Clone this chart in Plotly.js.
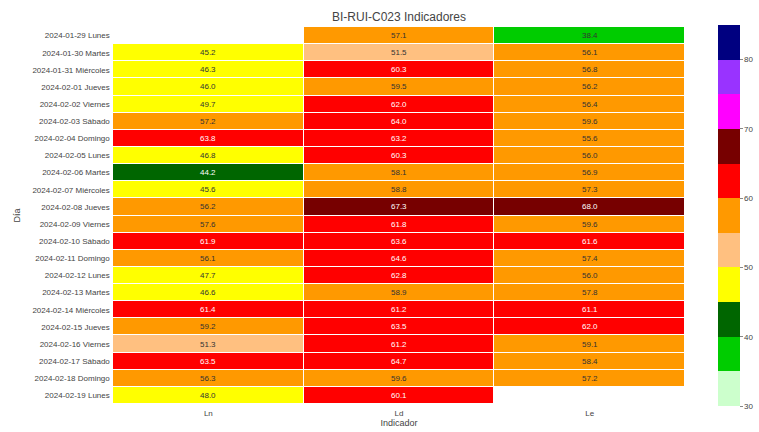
<!DOCTYPE html>
<html>
<head>
<meta charset="utf-8">
<script src="https://cdn.plot.ly/plotly-3.0.1.min.js"></script>
<style>html,body{margin:0;padding:0;background:#fff;}#chart{width:759px;height:432px;}</style>
</head>
<body>
<div id="chart"></div>
<script>
const days = ["2024-01-29 Lunes","2024-01-30 Martes","2024-01-31 Miércoles","2024-02-01 Jueves","2024-02-02 Viernes","2024-02-03 Sábado","2024-02-04 Domingo","2024-02-05 Lunes","2024-02-06 Martes","2024-02-07 Miércoles","2024-02-08 Jueves","2024-02-09 Viernes","2024-02-10 Sábado","2024-02-11 Domingo","2024-02-12 Lunes","2024-02-13 Martes","2024-02-14 Miércoles","2024-02-15 Jueves","2024-02-16 Viernes","2024-02-17 Sábado","2024-02-18 Domingo","2024-02-19 Lunes"];
const indicators = ["Ln","Ld","Le"];
const Ln = [null,45.2,46.3,46.0,49.7,57.2,63.8,46.8,44.2,45.6,56.2,57.6,61.9,56.1,47.7,46.6,61.4,59.2,51.3,63.5,56.3,48.0];
const Ld = [57.1,51.5,60.3,59.5,62.0,64.0,63.2,60.3,58.1,58.8,67.3,61.8,63.6,64.6,62.8,58.9,61.2,63.5,61.2,64.7,59.6,60.1];
const Le = [38.4,56.1,56.8,56.2,56.4,59.6,55.6,56.0,56.9,57.3,68.0,59.6,61.6,57.4,56.0,57.8,61.1,62.0,59.1,58.4,57.2,null];
const binColors = ["#ccffcc","#00cc00","#006600","#ffff00","#ffc080","#ff9900","#ff0000","#770000","#ff00ff","#9933ff","#000080"];
const zmin = 30, zmax = 85;

const z = days.map((d,i)=>[Ln[i],Ld[i],Le[i]]);
const cs = [];
binColors.forEach((c,k)=>{ cs.push([k/binColors.length,c]); cs.push([(k+1)/binColors.length,c]); });

const darkBins = new Set([2,6,7,8,9,10]);
const annotations = [];
days.forEach((d,i)=>{
  indicators.forEach((ind,j)=>{
    const v = z[i][j];
    if (v===null) return;
    const bin = Math.min(binColors.length-1, Math.floor((v-zmin)/5));
    annotations.push({x:ind, y:d, text:v.toFixed(1), showarrow:false,
      font:{size:8, color: darkBins.has(bin) ? "#ffffff" : "#333333", family:"Liberation Sans, Arial, sans-serif"}});
  });
});

const trace = {
  type:"heatmap", x:indicators, y:days, z:z,
  colorscale:cs, zmin:zmin, zmax:zmax, xgap:1, ygap:1,
  hoverongaps:false,
  colorbar:{thickness:22, len:1.01, x:1.0577, xanchor:"left", xpad:0, ypad:0, y:0.5, yanchor:"middle",
    tickvals:[30,40,50,60,70,80], ticks:"outside", ticklen:3, tickcolor:"#888",
    outlinewidth:0, tickfont:{size:8,color:"#444"}}
};
const layout = {
  width:759, height:432,
  margin:{l:113, r:74, t:27, b:28, autoexpand:false},
  paper_bgcolor:"#ffffff", plot_bgcolor:"#ffffff",
  font:{family:"Liberation Sans, Arial, sans-serif", color:"#444"},
  title:{text:"BI-RUI-C023 Indicadores", font:{size:12,color:"#444"}, x:0.5, xref:"paper", y:0.96, yanchor:"middle"},
  xaxis:{title:{text:"Indicador", font:{size:9,color:"#444"}, standoff:3}, tickfont:{size:8,color:"#444"}, showgrid:false, zeroline:false, ticks:"outside", ticklen:1, tickcolor:"rgba(0,0,0,0)", automargin:false},
  yaxis:{title:{text:"Día", font:{size:9,color:"#444"}, standoff:10}, tickfont:{size:8,color:"#444"}, autorange:"reversed", showgrid:false, zeroline:false, ticks:"", ticksuffix:" ", automargin:false},
  annotations:annotations
};
Plotly.newPlot("chart",[trace],layout,{displayModeBar:false, staticPlot:true});
</script>
</body>
</html>
